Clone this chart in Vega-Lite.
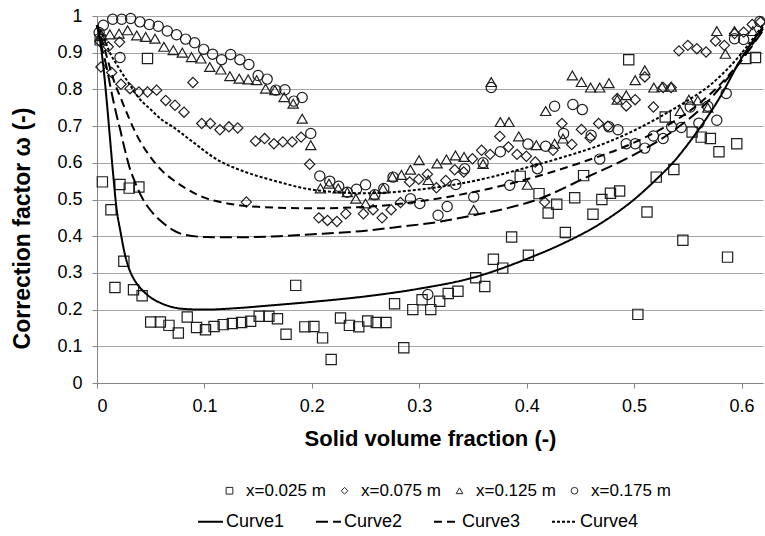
{
  "$schema": "https://vega.github.io/schema/vega-lite/v6.json",
  "width": 666,
  "height": 367,
  "autosize": {"type": "none"},
  "padding": {"left": 97, "top": 16, "right": 2, "bottom": 153},
  "background": "white",
  "config": {
    "font": "Liberation Sans",
    "view": {"stroke": null},
    "axis": {
      "domainColor": "#868686",
      "tickColor": "#868686",
      "gridColor": "#a6a6a6",
      "labelColor": "black",
      "titleColor": "black",
      "labelFont": "Liberation Sans",
      "titleFont": "Liberation Sans",
      "labelFontSize": 18,
      "titleFontSize": 22,
      "titleFontWeight": "bold",
      "tickSize": 5
    }
  },
  "datasets": {
    "pts": [
      {"x":0.003,"y":0.935,"s":"x=0.025 m"},{"x":0.005,"y":0.548,"s":"x=0.025 m"},{"x":0.013,"y":0.472,"s":"x=0.025 m"},{"x":0.0167,"y":0.26,"s":"x=0.025 m"},{"x":0.0214,"y":0.541,"s":"x=0.025 m"},{"x":0.025,"y":0.332,"s":"x=0.025 m"},{"x":0.03,"y":0.531,"s":"x=0.025 m"},{"x":0.034,"y":0.254,"s":"x=0.025 m"},{"x":0.039,"y":0.534,"s":"x=0.025 m"},{"x":0.042,"y":0.238,"s":"x=0.025 m"},{"x":0.047,"y":0.884,"s":"x=0.025 m"},{"x":0.05,"y":0.166,"s":"x=0.025 m"},{"x":0.059,"y":0.166,"s":"x=0.025 m"},{"x":0.067,"y":0.157,"s":"x=0.025 m"},{"x":0.0757,"y":0.136,"s":"x=0.025 m"},{"x":0.084,"y":0.18,"s":"x=0.025 m"},{"x":0.0927,"y":0.151,"s":"x=0.025 m"},{"x":0.101,"y":0.145,"s":"x=0.025 m"},{"x":0.109,"y":0.154,"s":"x=0.025 m"},{"x":0.1175,"y":0.159,"s":"x=0.025 m"},{"x":0.126,"y":0.162,"s":"x=0.025 m"},{"x":0.1346,"y":0.165,"s":"x=0.025 m"},{"x":0.143,"y":0.168,"s":"x=0.025 m"},{"x":0.151,"y":0.182,"s":"x=0.025 m"},{"x":0.16,"y":0.182,"s":"x=0.025 m"},{"x":0.168,"y":0.175,"s":"x=0.025 m"},{"x":0.176,"y":0.133,"s":"x=0.025 m"},{"x":0.185,"y":0.266,"s":"x=0.025 m"},{"x":0.1935,"y":0.153,"s":"x=0.025 m"},{"x":0.2019,"y":0.154,"s":"x=0.025 m"},{"x":0.21,"y":0.123,"s":"x=0.025 m"},{"x":0.218,"y":0.064,"s":"x=0.025 m"},{"x":0.2267,"y":0.177,"s":"x=0.025 m"},{"x":0.235,"y":0.157,"s":"x=0.025 m"},{"x":0.2437,"y":0.153,"s":"x=0.025 m"},{"x":0.252,"y":0.169,"s":"x=0.025 m"},{"x":0.26,"y":0.165,"s":"x=0.025 m"},{"x":0.269,"y":0.165,"s":"x=0.025 m"},{"x":0.277,"y":0.216,"s":"x=0.025 m"},{"x":0.2856,"y":0.096,"s":"x=0.025 m"},{"x":0.294,"y":0.2,"s":"x=0.025 m"},{"x":0.3026,"y":0.227,"s":"x=0.025 m"},{"x":0.3107,"y":0.2,"s":"x=0.025 m"},{"x":0.319,"y":0.223,"s":"x=0.025 m"},{"x":0.327,"y":0.244,"s":"x=0.025 m"},{"x":0.336,"y":0.25,"s":"x=0.025 m"},{"x":0.3526,"y":0.287,"s":"x=0.025 m"},{"x":0.361,"y":0.263,"s":"x=0.025 m"},{"x":0.369,"y":0.337,"s":"x=0.025 m"},{"x":0.3777,"y":0.313,"s":"x=0.025 m"},{"x":0.386,"y":0.398,"s":"x=0.025 m"},{"x":0.394,"y":0.563,"s":"x=0.025 m"},{"x":0.4016,"y":0.348,"s":"x=0.025 m"},{"x":0.4115,"y":0.516,"s":"x=0.025 m"},{"x":0.42,"y":0.463,"s":"x=0.025 m"},{"x":0.428,"y":0.487,"s":"x=0.025 m"},{"x":0.436,"y":0.41,"s":"x=0.025 m"},{"x":0.4447,"y":0.505,"s":"x=0.025 m"},{"x":0.453,"y":0.565,"s":"x=0.025 m"},{"x":0.4617,"y":0.46,"s":"x=0.025 m"},{"x":0.47,"y":0.5,"s":"x=0.025 m"},{"x":0.478,"y":0.517,"s":"x=0.025 m"},{"x":0.4865,"y":0.523,"s":"x=0.025 m"},{"x":0.495,"y":0.881,"s":"x=0.025 m"},{"x":0.5035,"y":0.187,"s":"x=0.025 m"},{"x":0.512,"y":0.466,"s":"x=0.025 m"},{"x":0.5206,"y":0.561,"s":"x=0.025 m"},{"x":0.529,"y":0.725,"s":"x=0.025 m"},{"x":0.537,"y":0.582,"s":"x=0.025 m"},{"x":0.5454,"y":0.389,"s":"x=0.025 m"},{"x":0.554,"y":0.684,"s":"x=0.025 m"},{"x":0.5625,"y":0.67,"s":"x=0.025 m"},{"x":0.571,"y":0.666,"s":"x=0.025 m"},{"x":0.579,"y":0.63,"s":"x=0.025 m"},{"x":0.587,"y":0.343,"s":"x=0.025 m"},{"x":0.5956,"y":0.652,"s":"x=0.025 m"},{"x":0.604,"y":0.884,"s":"x=0.025 m"},{"x":0.613,"y":0.887,"s":"x=0.025 m"},
      {"x":0.003,"y":0.93,"s":"x=0.075 m"},{"x":0.0037,"y":0.861,"s":"x=0.075 m"},{"x":0.0105,"y":0.916,"s":"x=0.075 m"},{"x":0.0137,"y":0.846,"s":"x=0.075 m"},{"x":0.021,"y":0.929,"s":"x=0.075 m"},{"x":0.0223,"y":0.814,"s":"x=0.075 m"},{"x":0.0307,"y":0.802,"s":"x=0.075 m"},{"x":0.039,"y":0.793,"s":"x=0.075 m"},{"x":0.047,"y":0.793,"s":"x=0.075 m"},{"x":0.0555,"y":0.798,"s":"x=0.075 m"},{"x":0.064,"y":0.77,"s":"x=0.075 m"},{"x":0.0726,"y":0.757,"s":"x=0.075 m"},{"x":0.081,"y":0.738,"s":"x=0.075 m"},{"x":0.0893,"y":0.819,"s":"x=0.075 m"},{"x":0.0975,"y":0.707,"s":"x=0.075 m"},{"x":0.1055,"y":0.707,"s":"x=0.075 m"},{"x":0.1144,"y":0.69,"s":"x=0.075 m"},{"x":0.1228,"y":0.698,"s":"x=0.075 m"},{"x":0.131,"y":0.695,"s":"x=0.075 m"},{"x":0.139,"y":0.493,"s":"x=0.075 m"},{"x":0.1476,"y":0.659,"s":"x=0.075 m"},{"x":0.156,"y":0.666,"s":"x=0.075 m"},{"x":0.1647,"y":0.652,"s":"x=0.075 m"},{"x":0.173,"y":0.657,"s":"x=0.075 m"},{"x":0.1817,"y":0.657,"s":"x=0.075 m"},{"x":0.19,"y":0.67,"s":"x=0.075 m"},{"x":0.198,"y":0.596,"s":"x=0.075 m"},{"x":0.2065,"y":0.45,"s":"x=0.075 m"},{"x":0.2146,"y":0.443,"s":"x=0.075 m"},{"x":0.2233,"y":0.44,"s":"x=0.075 m"},{"x":0.2316,"y":0.461,"s":"x=0.075 m"},{"x":0.248,"y":0.461,"s":"x=0.075 m"},{"x":0.257,"y":0.472,"s":"x=0.075 m"},{"x":0.2654,"y":0.45,"s":"x=0.075 m"},{"x":0.2738,"y":0.472,"s":"x=0.075 m"},{"x":0.2825,"y":0.492,"s":"x=0.075 m"},{"x":0.291,"y":0.548,"s":"x=0.075 m"},{"x":0.2995,"y":0.555,"s":"x=0.075 m"},{"x":0.3076,"y":0.569,"s":"x=0.075 m"},{"x":0.316,"y":0.532,"s":"x=0.075 m"},{"x":0.3247,"y":0.552,"s":"x=0.075 m"},{"x":0.333,"y":0.581,"s":"x=0.075 m"},{"x":0.3414,"y":0.575,"s":"x=0.075 m"},{"x":0.3495,"y":0.611,"s":"x=0.075 m"},{"x":0.358,"y":0.634,"s":"x=0.075 m"},{"x":0.366,"y":0.623,"s":"x=0.075 m"},{"x":0.375,"y":0.672,"s":"x=0.075 m"},{"x":0.383,"y":0.643,"s":"x=0.075 m"},{"x":0.391,"y":0.623,"s":"x=0.075 m"},{"x":0.3997,"y":0.618,"s":"x=0.075 m"},{"x":0.408,"y":0.602,"s":"x=0.075 m"},{"x":0.4167,"y":0.493,"s":"x=0.075 m"},{"x":0.4245,"y":0.634,"s":"x=0.075 m"},{"x":0.4328,"y":0.707,"s":"x=0.075 m"},{"x":0.442,"y":0.65,"s":"x=0.075 m"},{"x":0.451,"y":0.691,"s":"x=0.075 m"},{"x":0.459,"y":0.668,"s":"x=0.075 m"},{"x":0.467,"y":0.707,"s":"x=0.075 m"},{"x":0.4756,"y":0.7,"s":"x=0.075 m"},{"x":0.4843,"y":0.775,"s":"x=0.075 m"},{"x":0.4927,"y":0.755,"s":"x=0.075 m"},{"x":0.501,"y":0.772,"s":"x=0.075 m"},{"x":0.51,"y":0.834,"s":"x=0.075 m"},{"x":0.518,"y":0.752,"s":"x=0.075 m"},{"x":0.527,"y":0.805,"s":"x=0.075 m"},{"x":0.5345,"y":0.805,"s":"x=0.075 m"},{"x":0.5417,"y":0.905,"s":"x=0.075 m"},{"x":0.55,"y":0.92,"s":"x=0.075 m"},{"x":0.5584,"y":0.911,"s":"x=0.075 m"},{"x":0.567,"y":0.902,"s":"x=0.075 m"},{"x":0.5758,"y":0.932,"s":"x=0.075 m"},{"x":0.584,"y":0.92,"s":"x=0.075 m"},{"x":0.5935,"y":0.952,"s":"x=0.075 m"},{"x":0.602,"y":0.956,"s":"x=0.075 m"},{"x":0.61,"y":0.977,"s":"x=0.075 m"},{"x":0.6177,"y":0.984,"s":"x=0.075 m"},
      {"x":0.003,"y":0.945,"s":"x=0.125 m"},{"x":0.0044,"y":0.947,"s":"x=0.125 m"},{"x":0.012,"y":0.95,"s":"x=0.125 m"},{"x":0.0205,"y":0.952,"s":"x=0.125 m"},{"x":0.0285,"y":0.961,"s":"x=0.125 m"},{"x":0.037,"y":0.947,"s":"x=0.125 m"},{"x":0.0453,"y":0.943,"s":"x=0.125 m"},{"x":0.054,"y":0.938,"s":"x=0.125 m"},{"x":0.0623,"y":0.916,"s":"x=0.125 m"},{"x":0.071,"y":0.907,"s":"x=0.125 m"},{"x":0.0794,"y":0.9,"s":"x=0.125 m"},{"x":0.088,"y":0.888,"s":"x=0.125 m"},{"x":0.0967,"y":0.884,"s":"x=0.125 m"},{"x":0.105,"y":0.861,"s":"x=0.125 m"},{"x":0.1153,"y":0.854,"s":"x=0.125 m"},{"x":0.1237,"y":0.836,"s":"x=0.125 m"},{"x":0.1324,"y":0.829,"s":"x=0.125 m"},{"x":0.1407,"y":0.827,"s":"x=0.125 m"},{"x":0.1486,"y":0.825,"s":"x=0.125 m"},{"x":0.157,"y":0.802,"s":"x=0.125 m"},{"x":0.1656,"y":0.798,"s":"x=0.125 m"},{"x":0.1742,"y":0.779,"s":"x=0.125 m"},{"x":0.1826,"y":0.761,"s":"x=0.125 m"},{"x":0.191,"y":0.72,"s":"x=0.125 m"},{"x":0.199,"y":0.648,"s":"x=0.125 m"},{"x":0.208,"y":0.53,"s":"x=0.125 m"},{"x":0.216,"y":0.543,"s":"x=0.125 m"},{"x":0.2245,"y":0.53,"s":"x=0.125 m"},{"x":0.233,"y":0.52,"s":"x=0.125 m"},{"x":0.241,"y":0.502,"s":"x=0.125 m"},{"x":0.25,"y":0.489,"s":"x=0.125 m"},{"x":0.258,"y":0.513,"s":"x=0.125 m"},{"x":0.2663,"y":0.53,"s":"x=0.125 m"},{"x":0.275,"y":0.562,"s":"x=0.125 m"},{"x":0.2834,"y":0.567,"s":"x=0.125 m"},{"x":0.2918,"y":0.581,"s":"x=0.125 m"},{"x":0.2998,"y":0.607,"s":"x=0.125 m"},{"x":0.3084,"y":0.553,"s":"x=0.125 m"},{"x":0.3166,"y":0.598,"s":"x=0.125 m"},{"x":0.3253,"y":0.609,"s":"x=0.125 m"},{"x":0.3337,"y":0.62,"s":"x=0.125 m"},{"x":0.3417,"y":0.616,"s":"x=0.125 m"},{"x":0.3507,"y":0.472,"s":"x=0.125 m"},{"x":0.3594,"y":0.597,"s":"x=0.125 m"},{"x":0.367,"y":0.82,"s":"x=0.125 m"},{"x":0.3755,"y":0.711,"s":"x=0.125 m"},{"x":0.3835,"y":0.711,"s":"x=0.125 m"},{"x":0.3926,"y":0.672,"s":"x=0.125 m"},{"x":0.4007,"y":0.54,"s":"x=0.125 m"},{"x":0.409,"y":0.648,"s":"x=0.125 m"},{"x":0.4177,"y":0.741,"s":"x=0.125 m"},{"x":0.426,"y":0.652,"s":"x=0.125 m"},{"x":0.4338,"y":0.666,"s":"x=0.125 m"},{"x":0.4425,"y":0.838,"s":"x=0.125 m"},{"x":0.451,"y":0.82,"s":"x=0.125 m"},{"x":0.4595,"y":0.805,"s":"x=0.125 m"},{"x":0.468,"y":0.805,"s":"x=0.125 m"},{"x":0.4766,"y":0.817,"s":"x=0.125 m"},{"x":0.4843,"y":0.772,"s":"x=0.125 m"},{"x":0.4927,"y":0.784,"s":"x=0.125 m"},{"x":0.501,"y":0.825,"s":"x=0.125 m"},{"x":0.51,"y":0.852,"s":"x=0.125 m"},{"x":0.5184,"y":0.805,"s":"x=0.125 m"},{"x":0.526,"y":0.807,"s":"x=0.125 m"},{"x":0.5346,"y":0.807,"s":"x=0.125 m"},{"x":0.543,"y":0.741,"s":"x=0.125 m"},{"x":0.551,"y":0.772,"s":"x=0.125 m"},{"x":0.5593,"y":0.77,"s":"x=0.125 m"},{"x":0.5686,"y":0.75,"s":"x=0.125 m"},{"x":0.577,"y":0.959,"s":"x=0.125 m"},{"x":0.585,"y":0.897,"s":"x=0.125 m"},{"x":0.5935,"y":0.959,"s":"x=0.125 m"},{"x":0.6105,"y":0.959,"s":"x=0.125 m"},
      {"x":0.002,"y":0.955,"s":"x=0.175 m"},{"x":0.0059,"y":0.975,"s":"x=0.175 m"},{"x":0.0146,"y":0.991,"s":"x=0.175 m"},{"x":0.0214,"y":0.887,"s":"x=0.175 m"},{"x":0.023,"y":0.991,"s":"x=0.175 m"},{"x":0.0313,"y":0.993,"s":"x=0.175 m"},{"x":0.04,"y":0.984,"s":"x=0.175 m"},{"x":0.0487,"y":0.977,"s":"x=0.175 m"},{"x":0.057,"y":0.972,"s":"x=0.175 m"},{"x":0.0654,"y":0.959,"s":"x=0.175 m"},{"x":0.074,"y":0.949,"s":"x=0.175 m"},{"x":0.0825,"y":0.937,"s":"x=0.175 m"},{"x":0.0909,"y":0.927,"s":"x=0.175 m"},{"x":0.0993,"y":0.909,"s":"x=0.175 m"},{"x":0.1076,"y":0.896,"s":"x=0.175 m"},{"x":0.116,"y":0.881,"s":"x=0.175 m"},{"x":0.1244,"y":0.895,"s":"x=0.175 m"},{"x":0.133,"y":0.881,"s":"x=0.175 m"},{"x":0.1414,"y":0.868,"s":"x=0.175 m"},{"x":0.15,"y":0.838,"s":"x=0.175 m"},{"x":0.1584,"y":0.828,"s":"x=0.175 m"},{"x":0.1665,"y":0.798,"s":"x=0.175 m"},{"x":0.1749,"y":0.799,"s":"x=0.175 m"},{"x":0.1833,"y":0.768,"s":"x=0.175 m"},{"x":0.191,"y":0.778,"s":"x=0.175 m"},{"x":0.199,"y":0.68,"s":"x=0.175 m"},{"x":0.2074,"y":0.564,"s":"x=0.175 m"},{"x":0.2167,"y":0.55,"s":"x=0.175 m"},{"x":0.225,"y":0.536,"s":"x=0.175 m"},{"x":0.233,"y":0.52,"s":"x=0.175 m"},{"x":0.2416,"y":0.528,"s":"x=0.175 m"},{"x":0.25,"y":0.54,"s":"x=0.175 m"},{"x":0.2586,"y":0.513,"s":"x=0.175 m"},{"x":0.267,"y":0.53,"s":"x=0.175 m"},{"x":0.2756,"y":0.561,"s":"x=0.175 m"},{"x":0.2918,"y":0.502,"s":"x=0.175 m"},{"x":0.3005,"y":0.489,"s":"x=0.175 m"},{"x":0.308,"y":0.241,"s":"x=0.175 m"},{"x":0.3175,"y":0.457,"s":"x=0.175 m"},{"x":0.326,"y":0.481,"s":"x=0.175 m"},{"x":0.334,"y":0.541,"s":"x=0.175 m"},{"x":0.3423,"y":0.584,"s":"x=0.175 m"},{"x":0.3507,"y":0.507,"s":"x=0.175 m"},{"x":0.3594,"y":0.6,"s":"x=0.175 m"},{"x":0.367,"y":0.805,"s":"x=0.175 m"},{"x":0.3755,"y":0.63,"s":"x=0.175 m"},{"x":0.3842,"y":0.539,"s":"x=0.175 m"},{"x":0.4012,"y":0.651,"s":"x=0.175 m"},{"x":0.41,"y":0.584,"s":"x=0.175 m"},{"x":0.4177,"y":0.645,"s":"x=0.175 m"},{"x":0.426,"y":0.754,"s":"x=0.175 m"},{"x":0.4344,"y":0.68,"s":"x=0.175 m"},{"x":0.443,"y":0.759,"s":"x=0.175 m"},{"x":0.4518,"y":0.745,"s":"x=0.175 m"},{"x":0.46,"y":0.675,"s":"x=0.175 m"},{"x":0.468,"y":0.61,"s":"x=0.175 m"},{"x":0.4766,"y":0.698,"s":"x=0.175 m"},{"x":0.485,"y":0.69,"s":"x=0.175 m"},{"x":0.4927,"y":0.652,"s":"x=0.175 m"},{"x":0.501,"y":0.652,"s":"x=0.175 m"},{"x":0.51,"y":0.64,"s":"x=0.175 m"},{"x":0.518,"y":0.673,"s":"x=0.175 m"},{"x":0.527,"y":0.666,"s":"x=0.175 m"},{"x":0.535,"y":0.698,"s":"x=0.175 m"},{"x":0.5439,"y":0.696,"s":"x=0.175 m"},{"x":0.5523,"y":0.752,"s":"x=0.175 m"},{"x":0.5603,"y":0.708,"s":"x=0.175 m"},{"x":0.5686,"y":0.754,"s":"x=0.175 m"},{"x":0.577,"y":0.716,"s":"x=0.175 m"},{"x":0.5858,"y":0.789,"s":"x=0.175 m"},{"x":0.5935,"y":0.938,"s":"x=0.175 m"},{"x":0.602,"y":0.936,"s":"x=0.175 m"},{"x":0.617,"y":0.985,"s":"x=0.175 m"}
    ],
    "curves": [
      {"x":0,"y":0.975,"c":"Curve1"},{"x":0.003,"y":0.93,"c":"Curve1"},{"x":0.006,"y":0.86,"c":"Curve1"},{"x":0.009,"y":0.77,"c":"Curve1"},{"x":0.012,"y":0.67,"c":"Curve1"},{"x":0.015,"y":0.57,"c":"Curve1"},{"x":0.018,"y":0.48,"c":"Curve1"},{"x":0.022,"y":0.41,"c":"Curve1"},{"x":0.026,"y":0.35,"c":"Curve1"},{"x":0.03,"y":0.31,"c":"Curve1"},{"x":0.035,"y":0.28,"c":"Curve1"},{"x":0.04,"y":0.26,"c":"Curve1"},{"x":0.05,"y":0.233,"c":"Curve1"},{"x":0.06,"y":0.217,"c":"Curve1"},{"x":0.07,"y":0.207,"c":"Curve1"},{"x":0.08,"y":0.202,"c":"Curve1"},{"x":0.1,"y":0.2,"c":"Curve1"},{"x":0.13,"y":0.204,"c":"Curve1"},{"x":0.16,"y":0.211,"c":"Curve1"},{"x":0.2,"y":0.221,"c":"Curve1"},{"x":0.25,"y":0.236,"c":"Curve1"},{"x":0.3,"y":0.257,"c":"Curve1"},{"x":0.35,"y":0.287,"c":"Curve1"},{"x":0.4,"y":0.338,"c":"Curve1"},{"x":0.43,"y":0.375,"c":"Curve1"},{"x":0.47,"y":0.437,"c":"Curve1"},{"x":0.5,"y":0.5,"c":"Curve1"},{"x":0.52,"y":0.553,"c":"Curve1"},{"x":0.536,"y":0.6,"c":"Curve1"},{"x":0.555,"y":0.67,"c":"Curve1"},{"x":0.58,"y":0.779,"c":"Curve1"},{"x":0.6,"y":0.885,"c":"Curve1"},{"x":0.62,"y":0.97,"c":"Curve1"},
      {"x":0,"y":0.975,"c":"Curve2"},{"x":0.004,"y":0.92,"c":"Curve2"},{"x":0.009,"y":0.86,"c":"Curve2"},{"x":0.013,"y":0.8,"c":"Curve2"},{"x":0.017,"y":0.745,"c":"Curve2"},{"x":0.022,"y":0.685,"c":"Curve2"},{"x":0.026,"y":0.635,"c":"Curve2"},{"x":0.03,"y":0.59,"c":"Curve2"},{"x":0.035,"y":0.55,"c":"Curve2"},{"x":0.042,"y":0.505,"c":"Curve2"},{"x":0.05,"y":0.47,"c":"Curve2"},{"x":0.06,"y":0.44,"c":"Curve2"},{"x":0.07,"y":0.418,"c":"Curve2"},{"x":0.08,"y":0.405,"c":"Curve2"},{"x":0.1,"y":0.398,"c":"Curve2"},{"x":0.13,"y":0.397,"c":"Curve2"},{"x":0.17,"y":0.4,"c":"Curve2"},{"x":0.21,"y":0.407,"c":"Curve2"},{"x":0.25,"y":0.415,"c":"Curve2"},{"x":0.28,"y":0.425,"c":"Curve2"},{"x":0.32,"y":0.44,"c":"Curve2"},{"x":0.35,"y":0.457,"c":"Curve2"},{"x":0.38,"y":0.475,"c":"Curve2"},{"x":0.41,"y":0.5,"c":"Curve2"},{"x":0.456,"y":0.561,"c":"Curve2"},{"x":0.496,"y":0.616,"c":"Curve2"},{"x":0.533,"y":0.68,"c":"Curve2"},{"x":0.567,"y":0.762,"c":"Curve2"},{"x":0.595,"y":0.86,"c":"Curve2"},{"x":0.62,"y":0.96,"c":"Curve2"},
      {"x":0,"y":0.975,"c":"Curve3"},{"x":0.005,"y":0.93,"c":"Curve3"},{"x":0.01,"y":0.88,"c":"Curve3"},{"x":0.015,"y":0.83,"c":"Curve3"},{"x":0.023,"y":0.77,"c":"Curve3"},{"x":0.03,"y":0.72,"c":"Curve3"},{"x":0.038,"y":0.67,"c":"Curve3"},{"x":0.05,"y":0.615,"c":"Curve3"},{"x":0.06,"y":0.58,"c":"Curve3"},{"x":0.07,"y":0.555,"c":"Curve3"},{"x":0.08,"y":0.535,"c":"Curve3"},{"x":0.1,"y":0.505,"c":"Curve3"},{"x":0.12,"y":0.49,"c":"Curve3"},{"x":0.15,"y":0.48,"c":"Curve3"},{"x":0.2,"y":0.476,"c":"Curve3"},{"x":0.25,"y":0.48,"c":"Curve3"},{"x":0.3,"y":0.495,"c":"Curve3"},{"x":0.35,"y":0.52,"c":"Curve3"},{"x":0.4,"y":0.555,"c":"Curve3"},{"x":0.45,"y":0.6,"c":"Curve3"},{"x":0.5,"y":0.655,"c":"Curve3"},{"x":0.53,"y":0.7,"c":"Curve3"},{"x":0.56,"y":0.76,"c":"Curve3"},{"x":0.59,"y":0.845,"c":"Curve3"},{"x":0.62,"y":0.965,"c":"Curve3"},
      {"x":0,"y":0.975,"c":"Curve4"},{"x":0.005,"y":0.95,"c":"Curve4"},{"x":0.012,"y":0.9,"c":"Curve4"},{"x":0.02,"y":0.86,"c":"Curve4"},{"x":0.03,"y":0.815,"c":"Curve4"},{"x":0.038,"y":0.78,"c":"Curve4"},{"x":0.05,"y":0.745,"c":"Curve4"},{"x":0.06,"y":0.718,"c":"Curve4"},{"x":0.071,"y":0.697,"c":"Curve4"},{"x":0.09,"y":0.655,"c":"Curve4"},{"x":0.11,"y":0.612,"c":"Curve4"},{"x":0.14,"y":0.573,"c":"Curve4"},{"x":0.164,"y":0.552,"c":"Curve4"},{"x":0.2,"y":0.527,"c":"Curve4"},{"x":0.25,"y":0.517,"c":"Curve4"},{"x":0.3,"y":0.527,"c":"Curve4"},{"x":0.35,"y":0.55,"c":"Curve4"},{"x":0.4,"y":0.587,"c":"Curve4"},{"x":0.43,"y":0.612,"c":"Curve4"},{"x":0.47,"y":0.65,"c":"Curve4"},{"x":0.5,"y":0.688,"c":"Curve4"},{"x":0.524,"y":0.725,"c":"Curve4"},{"x":0.55,"y":0.77,"c":"Curve4"},{"x":0.57,"y":0.81,"c":"Curve4"},{"x":0.59,"y":0.865,"c":"Curve4"},{"x":0.62,"y":0.975,"c":"Curve4"}
    ]
  },
  "encoding": {
    "x": {
      "field": "x", "type": "quantitative",
      "scale": {"domain": [0, 0.62], "nice": false, "zero": false},
      "axis": {"values": [0, 0.1, 0.2, 0.3, 0.4, 0.5, 0.6], "format": "~g", "grid": false, "labelPadding": 9, "titlePadding": 13, "title": "Solid volume fraction (-)"}
    },
    "y": {
      "field": "y", "type": "quantitative",
      "scale": {"domain": [0, 1], "nice": false},
      "axis": {"values": [0, 0.1, 0.2, 0.3, 0.4, 0.5, 0.6, 0.7, 0.8, 0.9, 1], "format": "~g", "grid": true, "labelPadding": 10, "titleFontSize": 23, "titleBaseline": "middle", "titleX": -75, "titleY": 212, "title": "Correction factor ω (-)"}
    }
  },
  "layer": [
    {
      "data": {"name": "pts"},
      "mark": {"type": "point", "filled": false, "color": "#1f1f1f", "opacity": 1, "strokeWidth": 1.2, "size": 105},
      "encoding": {
        "shape": {
          "field": "s", "type": "nominal",
          "scale": {"domain": ["x=0.025 m", "x=0.075 m", "x=0.125 m", "x=0.175 m"], "range": ["square", "diamond", "triangle-up", "circle"]},
          "legend": {"orient": "none", "legendX": 124, "legendY": 466, "direction": "horizontal", "title": null, "symbolSize": 45, "symbolStrokeColor": "#262626", "symbolStrokeWidth": 1, "symbolFillColor": "white", "symbolOpacity": 1, "labelFontSize": 17, "labelFont": "Liberation Sans", "labelColor": "black", "labelOffset": 8, "columnPadding": 10}
        }
      }
    },
    {
      "data": {"name": "curves"},
      "mark": {"type": "line", "color": "black", "strokeWidth": 2, "interpolate": "monotone"},
      "encoding": {
        "strokeDash": {
          "field": "c", "type": "nominal",
          "scale": {"domain": ["Curve1", "Curve2", "Curve3", "Curve4"], "range": [[1, 0], [12, 5], [8, 5], [3, 2]]},
          "legend": {"orient": "none", "legendX": 100, "legendY": 492, "direction": "horizontal", "title": null, "symbolType": "stroke", "symbolSize": 625, "symbolStrokeWidth": 2, "symbolStrokeColor": "black", "labelFontSize": 18, "labelFont": "Liberation Sans", "labelColor": "black", "labelOffset": 2, "columnPadding": 27}
        }
      }
    }
  ]
}
